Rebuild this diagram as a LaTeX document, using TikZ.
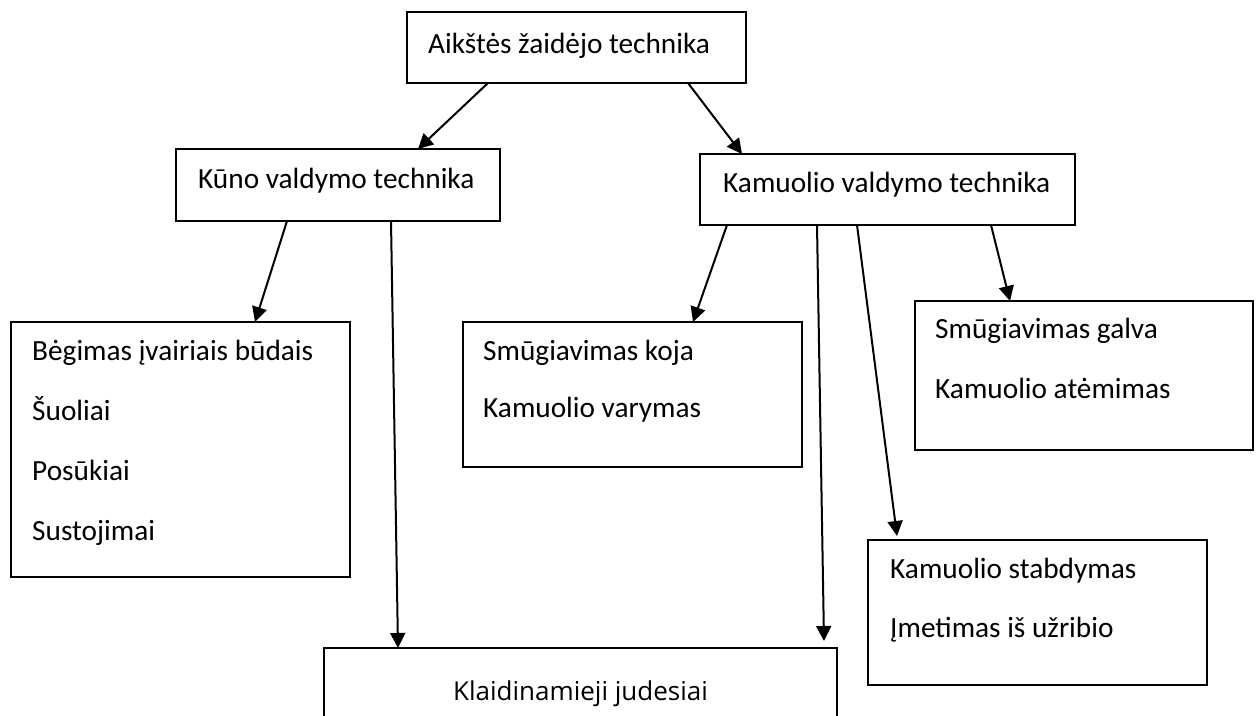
\documentclass[tikz,border=0pt]{standalone}
\usepackage{fontspec}
\setmainfont{Carlito}
\newfontfamily\altfont{Open Sans}
\usetikzlibrary{arrows.meta}

\tikzset{
  box/.style={draw, line width=1.5pt, rectangle, inner sep=0pt, outer sep=0pt, anchor=north west},
  lbl/.style={anchor=base west, inner sep=0pt, font=\fontsize{29.3}{32}\selectfont},
  arr/.style={line width=2pt, -{Triangle[length=15pt, width=15pt]}},
}

% box with top-left corner (x1,y1) and bottom-right corner (x2,y2)
\newcommand{\frameat}[5]{%
  \pgfmathsetmacro{\bw}{#4-#2}\pgfmathsetmacro{\bh}{#5-#3}%
  \node[box, minimum width=\bw pt, minimum height=\bh pt] (#1) at (#2,#3) {};}

\begin{document}
\begin{tikzpicture}[x=1pt, y=-1pt]
  \clip (0,0) rectangle (1257,715);
  \fill[white] (0,0) rectangle (1257,715);

  % boxes
  \frameat{top}{407}{12}{746}{83}
  \frameat{kuno}{176}{149}{500}{221}
  \frameat{kam}{700}{154}{1075}{225}
  \frameat{beg}{11}{322}{350}{577}
  \frameat{koja}{463}{322}{802}{467}
  \frameat{galva}{915}{301}{1253}{450}
  \frameat{stab}{868}{540}{1207}{685}
  \frameat{klaid}{324}{648}{837}{760}

  % texts
  \node[lbl] (tTop) at (428,53) {Aikštės žaidėjo technika};
  \node[lbl] (tKuno) at (198,188) {Kūno valdymo technika};
  \node[lbl] (tKam) at (723,192) {Kamuolio valdymo technika};
  \node[lbl] (tBeg1) at (32,360) {Bėgimas įvairiais būdais};
  \node[lbl] (tBeg2) at (32,420) {Šuoliai};
  \node[lbl] (tBeg3) at (32,480) {Posūkiai};
  \node[lbl] (tBeg4) at (32,540) {Sustojimai};
  \node[lbl] (tKoja1) at (483,360) {Smūgiavimas koja};
  \node[lbl] (tKoja2) at (483,417) {Kamuolio varymas};
  \node[lbl] (tGalva1) at (935,338) {Smūgiavimas galva};
  \node[lbl] (tGalva2) at (935,398) {Kamuolio atėmimas};
  \node[lbl] (tStab1) at (890,578) {Kamuolio stabdymas};
  \node[lbl] (tStab2) at (890,637) {Įmetimas iš užribio};
  \node[anchor=base, inner sep=0pt, font=\altfont\fontsize{26}{30}\selectfont] (tKlaid) at (580.5,700) {Klaidinamieji judesiai};

  % connectors
  \draw[arr] ([xshift=81pt]top.south west) -- ([xshift=242pt]kuno.north west);
  \draw[arr] ([xshift=281pt]top.south west) -- ([xshift=42pt]kam.north west);

  \draw[arr] ([xshift=111pt]kuno.south west) -- ([xshift=244pt]beg.north west);
  \draw[arr] ([xshift=215pt]kuno.south west) -- ([xshift=74pt]klaid.north west);

  \draw[arr] ([xshift=27pt]kam.south west) -- ([xshift=230pt]koja.north west);
  \draw[arr] ([xshift=117pt]kam.south west) -- ([xshift=500pt, yshift=7pt]klaid.north west);
  \draw[arr] ([xshift=157pt]kam.south west) -- ([xshift=29pt, yshift=4pt]stab.north west);
  \draw[arr] ([xshift=291pt]kam.south west) -- ([xshift=95pt]galva.north west);
\end{tikzpicture}
\end{document}
